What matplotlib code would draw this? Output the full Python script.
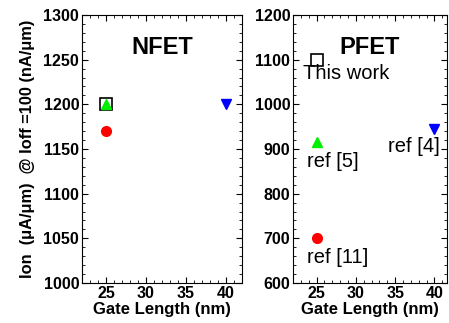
import numpy as np
import matplotlib
matplotlib.use('Agg')
import matplotlib.pyplot as plt
from matplotlib.ticker import MultipleLocator

plt.rcParams['font.family'] = ['Liberation Sans', 'DejaVu Sans']

# data
gate_length = [25, 25, 25, 40]
nfet_ion = [1200, 1200, 1170, 1200]
pfet_ion = [1100, 915, 700, 945]
markers = ['s', '^', 'o', 'v']
colors = ['none', '#00ee00', '#ff0000', '#0000ff']
pfet_labels = ['This work', 'ref [5]', 'ref [11]', 'ref [4]']

fig = plt.figure(figsize=(4.49, 3.23), dpi=100)
ax1 = fig.add_axes([0.1826, 0.1238, 0.3564, 0.8298])
ax2 = fig.add_axes([0.6526, 0.1238, 0.3430, 0.8298])


def draw(ax, y, title):
    for i in range(len(y)):
        if markers[i] == 's':
            ax.plot(gate_length[i], y[i], marker='s', ms=9, mfc='none',
                    mec='black', mew=1.2, ls='none', zorder=2)
        else:
            ax.plot(gate_length[i], y[i], marker=markers[i], ms=7,
                    color=colors[i], ls='none', zorder=3)
    ax.text(0.5, 0.88, title, transform=ax.transAxes, ha='center',
            va='center', fontsize=17, fontweight='bold')
    ax.set_xticks([25, 30, 35, 40])
    ax.xaxis.set_minor_locator(MultipleLocator(1))
    ax.tick_params(which='both', direction='in', top=True, right=True,
                   labelsize=11.5, pad=2)
    ax.tick_params(which='major', length=4)
    ax.tick_params(which='minor', length=2)
    for lab in ax.get_xticklabels() + ax.get_yticklabels():
        lab.set_fontweight('bold')
    ax.set_xlabel('Gate Length (nm)', fontsize=12, fontweight='bold',
                  labelpad=1)


draw(ax1, nfet_ion, 'NFET')
ax1.set_xlim(22, 42)
ax1.set_ylim(1000, 1300)
ax1.set_yticks(np.arange(1000, 1301, 50))
ax1.yaxis.set_minor_locator(MultipleLocator(10))
for lab in ax1.get_yticklabels():
    lab.set_fontweight('bold')
ax1.set_ylabel('Ion  (\u03bcA/\u03bcm)  @ Ioff =100 (nA/\u03bcm)',
               fontsize=11.8, fontweight='bold', labelpad=6)

draw(ax2, pfet_ion, 'PFET')
ax2.set_xlim(22, 41.6)
ax2.set_ylim(600, 1200)
ax2.set_yticks(np.arange(600, 1201, 100))
ax2.yaxis.set_minor_locator(MultipleLocator(20))
for lab in ax2.get_yticklabels():
    lab.set_fontweight('bold')

label_pos = [(23.25, 1068), (23.75, 871), (23.75, 656), (34.1, 905)]
for lab, (x, y) in zip(pfet_labels, label_pos):
    ax2.text(x, y, lab, fontsize=14.5, ha='left', va='center')

fig.savefig('out.png', dpi=100)
